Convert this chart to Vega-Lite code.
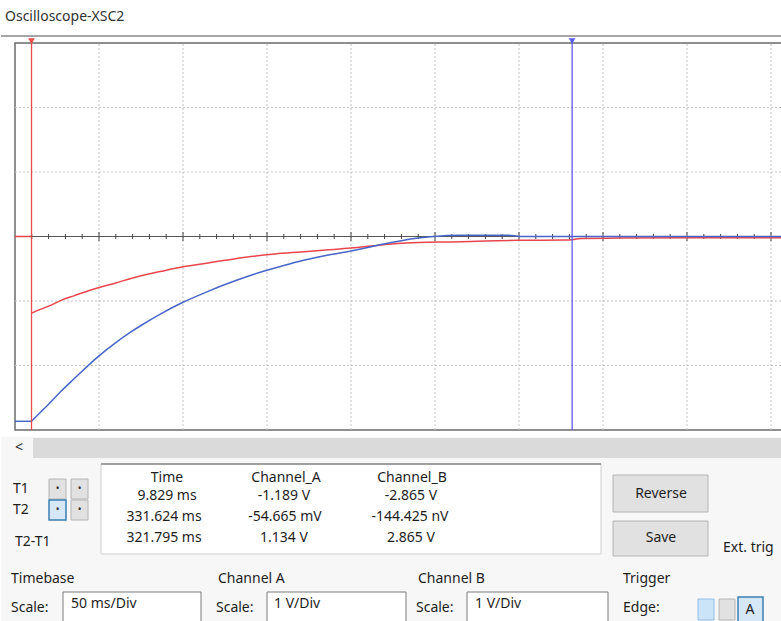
{
  "$schema": "https://vega.github.io/schema/vega-lite/v6.json",
  "padding": {"top": 10, "left": 0, "right": 0, "bottom": 0},
  "spacing": 0,
  "background": "white",
  "config": {"view": {"stroke": null}, "concat": {"spacing": 0}, "font": "Noto Sans"},
  "resolve": {"scale": {"x": "independent", "y": "independent", "color": "independent"}},
  "datasets": {
    "traces": [
      {"ch": "Channel_A", "seg": "A0", "i": 0, "t": 0, "v": 0},
      {"ch": "Channel_A", "seg": "A0", "i": 1, "t": 9.829, "v": 0},
      {"ch": "Channel_A", "seg": "A1", "i": 2, "t": 9.829, "v": -1.189},
      {"ch": "Channel_A", "seg": "A1", "i": 3, "t": 15, "v": -1.13},
      {"ch": "Channel_A", "seg": "A1", "i": 4, "t": 20, "v": -1.08},
      {"ch": "Channel_A", "seg": "A1", "i": 5, "t": 27.4, "v": -0.99},
      {"ch": "Channel_A", "seg": "A1", "i": 6, "t": 35, "v": -0.92},
      {"ch": "Channel_A", "seg": "A1", "i": 7, "t": 50, "v": -0.79},
      {"ch": "Channel_A", "seg": "A1", "i": 8, "t": 60, "v": -0.72},
      {"ch": "Channel_A", "seg": "A1", "i": 9, "t": 69, "v": -0.65},
      {"ch": "Channel_A", "seg": "A1", "i": 10, "t": 75, "v": -0.61},
      {"ch": "Channel_A", "seg": "A1", "i": 11, "t": 87, "v": -0.54},
      {"ch": "Channel_A", "seg": "A1", "i": 12, "t": 100, "v": -0.47},
      {"ch": "Channel_A", "seg": "A1", "i": 13, "t": 115, "v": -0.41},
      {"ch": "Channel_A", "seg": "A1", "i": 14, "t": 125, "v": -0.37},
      {"ch": "Channel_A", "seg": "A1", "i": 15, "t": 140.5, "v": -0.31},
      {"ch": "Channel_A", "seg": "A1", "i": 16, "t": 155, "v": -0.27},
      {"ch": "Channel_A", "seg": "A1", "i": 17, "t": 170, "v": -0.24},
      {"ch": "Channel_A", "seg": "A1", "i": 18, "t": 185, "v": -0.21},
      {"ch": "Channel_A", "seg": "A1", "i": 19, "t": 200, "v": -0.18},
      {"ch": "Channel_A", "seg": "A1", "i": 20, "t": 218, "v": -0.13},
      {"ch": "Channel_A", "seg": "A1", "i": 21, "t": 230, "v": -0.105},
      {"ch": "Channel_A", "seg": "A1", "i": 22, "t": 245, "v": -0.09},
      {"ch": "Channel_A", "seg": "A1", "i": 23, "t": 260, "v": -0.085},
      {"ch": "Channel_A", "seg": "A1", "i": 24, "t": 280, "v": -0.07},
      {"ch": "Channel_A", "seg": "A1", "i": 25, "t": 300, "v": -0.06},
      {"ch": "Channel_A", "seg": "A1", "i": 26, "t": 327, "v": -0.055},
      {"ch": "Channel_A", "seg": "A1", "i": 27, "t": 331.6, "v": -0.05},
      {"ch": "Channel_A", "seg": "A1", "i": 28, "t": 337, "v": -0.03},
      {"ch": "Channel_A", "seg": "A1", "i": 29, "t": 360, "v": -0.025},
      {"ch": "Channel_A", "seg": "A1", "i": 30, "t": 400, "v": -0.02},
      {"ch": "Channel_A", "seg": "A1", "i": 31, "t": 456.5, "v": -0.02},
      {"ch": "Channel_B", "seg": "B0", "i": 0, "t": 0, "v": -2.865},
      {"ch": "Channel_B", "seg": "B0", "i": 1, "t": 9.829, "v": -2.865},
      {"ch": "Channel_B", "seg": "B1", "i": 2, "t": 9.829, "v": -2.865},
      {"ch": "Channel_B", "seg": "B1", "i": 3, "t": 15, "v": -2.73},
      {"ch": "Channel_B", "seg": "B1", "i": 4, "t": 20, "v": -2.6},
      {"ch": "Channel_B", "seg": "B1", "i": 5, "t": 27.4, "v": -2.4},
      {"ch": "Channel_B", "seg": "B1", "i": 6, "t": 35, "v": -2.21},
      {"ch": "Channel_B", "seg": "B1", "i": 7, "t": 50, "v": -1.85},
      {"ch": "Channel_B", "seg": "B1", "i": 8, "t": 60, "v": -1.645},
      {"ch": "Channel_B", "seg": "B1", "i": 9, "t": 69, "v": -1.48},
      {"ch": "Channel_B", "seg": "B1", "i": 10, "t": 75, "v": -1.38},
      {"ch": "Channel_B", "seg": "B1", "i": 11, "t": 87, "v": -1.195},
      {"ch": "Channel_B", "seg": "B1", "i": 12, "t": 100, "v": -1.02},
      {"ch": "Channel_B", "seg": "B1", "i": 13, "t": 115, "v": -0.85},
      {"ch": "Channel_B", "seg": "B1", "i": 14, "t": 125, "v": -0.745},
      {"ch": "Channel_B", "seg": "B1", "i": 15, "t": 140.5, "v": -0.6},
      {"ch": "Channel_B", "seg": "B1", "i": 16, "t": 146, "v": -0.555},
      {"ch": "Channel_B", "seg": "B1", "i": 17, "t": 160, "v": -0.45},
      {"ch": "Channel_B", "seg": "B1", "i": 18, "t": 170, "v": -0.38},
      {"ch": "Channel_B", "seg": "B1", "i": 19, "t": 185, "v": -0.295},
      {"ch": "Channel_B", "seg": "B1", "i": 20, "t": 200, "v": -0.225},
      {"ch": "Channel_B", "seg": "B1", "i": 21, "t": 212, "v": -0.16},
      {"ch": "Channel_B", "seg": "B1", "i": 22, "t": 218, "v": -0.125},
      {"ch": "Channel_B", "seg": "B1", "i": 23, "t": 230, "v": -0.065},
      {"ch": "Channel_B", "seg": "B1", "i": 24, "t": 240, "v": -0.025},
      {"ch": "Channel_B", "seg": "B1", "i": 25, "t": 249, "v": 0},
      {"ch": "Channel_B", "seg": "B1", "i": 26, "t": 264, "v": 0.02},
      {"ch": "Channel_B", "seg": "B1", "i": 27, "t": 294, "v": 0.02},
      {"ch": "Channel_B", "seg": "B1", "i": 28, "t": 301, "v": 0},
      {"ch": "Channel_B", "seg": "B1", "i": 29, "t": 331.6, "v": 0},
      {"ch": "Channel_B", "seg": "B1", "i": 30, "t": 456.5, "v": 0}
    ],
    "vgrid": [{"t": 50}, {"t": 100}, {"t": 150}, {"t": 200}, {"t": 250}, {"t": 300}, {"t": 350}, {"t": 400}, {"t": 450}],
    "hgrid": [{"v": -2}, {"v": -1}, {"v": 1}, {"v": 2}],
    "minor": [{"t": 10}, {"t": 20}, {"t": 30}, {"t": 40}, {"t": 60}, {"t": 70}, {"t": 80}, {"t": 90}, {"t": 110}, {"t": 120}, {"t": 130}, {"t": 140}, {"t": 160}, {"t": 170}, {"t": 180}, {"t": 190}, {"t": 210}, {"t": 220}, {"t": 230}, {"t": 240}, {"t": 260}, {"t": 270}, {"t": 280}, {"t": 290}, {"t": 310}, {"t": 320}, {"t": 330}, {"t": 340}, {"t": 360}, {"t": 370}, {"t": 380}, {"t": 390}, {"t": 410}, {"t": 420}, {"t": 430}, {"t": 440}],
    "cursors": [{"name": "T1", "t": 9.829}, {"name": "T2", "t": 331.624}],
    "frame": [{"t0": 0, "t1": 470, "v0": -3, "v1": 3}],
    "track": [{"x0": 32, "x1": 781, "y0": 437, "y1": 457}],
    "whitebox": [{"x0": 100, "x1": 600, "y0": 463, "y1": 553}],
    "grayButtons": [
      {"x0": 612, "x1": 707, "y0": 474, "y1": 511},
      {"x0": 612, "x1": 707, "y0": 520, "y1": 555},
      {"x0": 48, "x1": 65, "y0": 478, "y1": 498},
      {"x0": 70, "x1": 87, "y0": 478, "y1": 498},
      {"x0": 70, "x1": 87, "y0": 499, "y1": 519},
      {"x0": 718, "x1": 734, "y0": 598, "y1": 619}
    ],
    "selButtons": [
      {"x0": 48, "x1": 65, "y0": 499, "y1": 519},
      {"x0": 737, "x1": 762, "y0": 596, "y1": 623}
    ],
    "blueButtons": [{"x0": 697, "x1": 713, "y0": 598, "y1": 619}],
    "inputs": [
      {"x0": 62, "x1": 200, "y0": 591, "y1": 625},
      {"x0": 266, "x1": 405, "y0": 591, "y1": 625},
      {"x0": 466, "x1": 607, "y0": 591, "y1": 625}
    ],
    "leftText": [
      {"x": 12, "y": 488, "label": "T1"},
      {"x": 12, "y": 509, "label": "T2"},
      {"x": 14, "y": 541, "label": "T2-T1"},
      {"x": 722, "y": 547, "label": "Ext. trig"},
      {"x": 10, "y": 578, "label": "Timebase"},
      {"x": 10, "y": 607, "label": "Scale:"},
      {"x": 70, "y": 603, "label": "50 ms/Div"},
      {"x": 217, "y": 578, "label": "Channel A"},
      {"x": 215, "y": 607, "label": "Scale:"},
      {"x": 273, "y": 603, "label": "1  V/Div"},
      {"x": 417, "y": 578, "label": "Channel B"},
      {"x": 415, "y": 607, "label": "Scale:"},
      {"x": 474, "y": 603, "label": "1  V/Div"},
      {"x": 622, "y": 578, "label": "Trigger"},
      {"x": 622, "y": 607, "label": "Edge:"}
    ],
    "centerText": [
      {"x": 166, "y": 477, "label": "Time"},
      {"x": 166, "y": 495, "label": "9.829 ms"},
      {"x": 163, "y": 516, "label": "331.624 ms"},
      {"x": 163, "y": 537, "label": "321.795 ms"},
      {"x": 285, "y": 477, "label": "Channel_A"},
      {"x": 283, "y": 495, "label": "-1.189 V"},
      {"x": 284, "y": 516, "label": "-54.665 mV"},
      {"x": 283, "y": 537, "label": "1.134 V"},
      {"x": 411, "y": 477, "label": "Channel_B"},
      {"x": 410, "y": 495, "label": "-2.865 V"},
      {"x": 409, "y": 516, "label": "-144.425 nV"},
      {"x": 410, "y": 537, "label": "2.865 V"},
      {"x": 660, "y": 493, "label": "Reverse"},
      {"x": 660, "y": 537, "label": "Save"},
      {"x": 749, "y": 609, "label": "A"},
      {"x": 18, "y": 447, "label": "<"}
    ],
    "dots": [
      {"x": 56.5, "y": 488, "label": "•"},
      {"x": 78.5, "y": 488, "label": "•"},
      {"x": 56.5, "y": 509, "label": "•"},
      {"x": 78.5, "y": 509, "label": "•"}
    ]
  },
  "vconcat": [
    {
      "width": 781,
      "height": 404,
      "title": {"text": "Oscilloscope-XSC2", "anchor": "start", "frame": "group", "fontSize": 14, "font": "Noto Sans", "fontWeight": "normal", "color": "#333333", "offset": 9, "dx": 4},
      "encoding": {
        "x": {"type": "quantitative", "scale": {"domain": [-8.333, 456.55], "nice": false, "zero": false}, "axis": null},
        "y": {"type": "quantitative", "scale": {"domain": [-3.1085, 3.155], "nice": false, "zero": false}, "axis": null}
      },
      "layer": [
        {
          "data": {"name": "frame"},
          "mark": {"type": "rect", "fill": "white", "stroke": "#6b6b6b", "strokeWidth": 1.5, "clip": true},
          "encoding": {"x": {"field": "t0", "type": "quantitative"}, "x2": {"field": "t1"}, "y": {"field": "v0", "type": "quantitative"}, "y2": {"field": "v1"}}
        },
        {
          "data": {"name": "vgrid"},
          "mark": {"type": "rule", "stroke": "#c4c4c4", "strokeDash": [2, 2], "strokeWidth": 1},
          "encoding": {"x": {"field": "t", "type": "quantitative"}, "y": {"datum": -3}, "y2": {"datum": 3}}
        },
        {
          "data": {"name": "hgrid"},
          "mark": {"type": "rule", "stroke": "#c4c4c4", "strokeDash": [2, 2], "strokeWidth": 1},
          "encoding": {"y": {"field": "v", "type": "quantitative"}, "x": {"datum": 0}, "x2": {"datum": 456.55}}
        },
        {
          "data": {"values": [{"v": 3.1085}]},
          "mark": {"type": "rule", "stroke": "#a6a6a6", "strokeWidth": 2},
          "encoding": {"y": {"field": "v", "type": "quantitative"}, "x": {"datum": -8.333}, "x2": {"datum": 456.55}}
        },
        {
          "data": {"values": [{"v": 0}]},
          "mark": {"type": "rule", "stroke": "#555555", "strokeWidth": 1},
          "encoding": {"y": {"field": "v", "type": "quantitative"}, "x": {"datum": 0}, "x2": {"datum": 456.55}}
        },
        {
          "data": {"name": "minor"},
          "mark": {"type": "tick", "orient": "vertical", "color": "#444444", "size": 5, "thickness": 1, "opacity": 1},
          "encoding": {"x": {"field": "t", "type": "quantitative"}, "y": {"datum": 0}}
        },
        {
          "data": {"name": "vgrid"},
          "mark": {"type": "tick", "orient": "vertical", "color": "#444444", "size": 9, "thickness": 1, "opacity": 1},
          "encoding": {"x": {"field": "t", "type": "quantitative"}, "y": {"datum": 0}}
        },
        {
          "data": {"name": "traces"},
          "mark": {"type": "line", "strokeWidth": 1.5, "interpolate": "monotone"},
          "encoding": {
            "x": {"field": "t", "type": "quantitative"},
            "y": {"field": "v", "type": "quantitative"},
            "order": {"field": "i", "type": "quantitative"},
            "detail": {"field": "seg", "type": "nominal"},
            "color": {"field": "ch", "type": "nominal", "scale": {"domain": ["Channel_A", "Channel_B", "T1", "T2"], "range": ["#e8464c", "#4866c8", "#ea4a4a", "#5c5cf0"]}, "legend": null}
          }
        },
        {
          "data": {"name": "cursors"},
          "mark": {"type": "rule", "strokeWidth": 1.3},
          "encoding": {
            "x": {"field": "t", "type": "quantitative"},
            "y": {"datum": -3},
            "y2": {"datum": 3.03},
            "color": {"field": "name", "type": "nominal", "scale": {"domain": ["Channel_A", "Channel_B", "T1", "T2"], "range": ["#e8464c", "#4866c8", "#ea4a4a", "#5c5cf0"]}, "legend": null}
          }
        },
        {
          "data": {"name": "cursors"},
          "mark": {"type": "point", "shape": "triangle-down", "filled": true, "size": 45, "opacity": 1},
          "encoding": {
            "x": {"field": "t", "type": "quantitative"},
            "y": {"datum": 3.03},
            "color": {"field": "name", "type": "nominal", "scale": {"domain": ["Channel_A", "Channel_B", "T1", "T2"], "range": ["#e8464c", "#4866c8", "#ea4a4a", "#5c5cf0"]}, "legend": null}
          }
        }
      ]
    },
    {
      "width": 781,
      "height": 185,
      "view": {"fill": "#f7f7f7", "stroke": null},
      "encoding": {
        "x": {"type": "quantitative", "scale": {"domain": [0, 781], "nice": false, "zero": false}, "axis": null},
        "y": {"type": "quantitative", "scale": {"domain": [436, 621], "nice": false, "zero": false, "reverse": true}, "axis": null}
      },
      "layer": [
        {
          "data": {"name": "track"},
          "mark": {"type": "rect", "fill": "#dadada"},
          "encoding": {"x": {"field": "x0", "type": "quantitative"}, "x2": {"field": "x1"}, "y": {"field": "y0", "type": "quantitative"}, "y2": {"field": "y1"}}
        },
        {
          "data": {"name": "whitebox"},
          "mark": {"type": "rect", "fill": "white", "stroke": "#cfcfcf", "strokeWidth": 1},
          "encoding": {"x": {"field": "x0", "type": "quantitative"}, "x2": {"field": "x1"}, "y": {"field": "y0", "type": "quantitative"}, "y2": {"field": "y1"}}
        },
        {
          "data": {"name": "whitebox"},
          "mark": {"type": "rule", "stroke": "#a0a0a0", "strokeWidth": 2},
          "encoding": {"x": {"field": "x0", "type": "quantitative"}, "x2": {"field": "x1"}, "y": {"field": "y0", "type": "quantitative"}}
        },
        {
          "data": {"name": "grayButtons"},
          "mark": {"type": "rect", "fill": "#e1e1e1", "stroke": "#b4b4b4", "strokeWidth": 1},
          "encoding": {"x": {"field": "x0", "type": "quantitative"}, "x2": {"field": "x1"}, "y": {"field": "y0", "type": "quantitative"}, "y2": {"field": "y1"}}
        },
        {
          "data": {"name": "selButtons"},
          "mark": {"type": "rect", "fill": "#d6e8f7", "stroke": "#3c7fb1", "strokeWidth": 1.5, "clip": true},
          "encoding": {"x": {"field": "x0", "type": "quantitative"}, "x2": {"field": "x1"}, "y": {"field": "y0", "type": "quantitative"}, "y2": {"field": "y1"}}
        },
        {
          "data": {"name": "blueButtons"},
          "mark": {"type": "rect", "fill": "#cce4f7", "stroke": "#8fbde8", "strokeWidth": 1},
          "encoding": {"x": {"field": "x0", "type": "quantitative"}, "x2": {"field": "x1"}, "y": {"field": "y0", "type": "quantitative"}, "y2": {"field": "y1"}}
        },
        {
          "data": {"name": "inputs"},
          "mark": {"type": "rect", "fill": "white", "stroke": "#7a7a7a", "strokeWidth": 1, "clip": true},
          "encoding": {"x": {"field": "x0", "type": "quantitative"}, "x2": {"field": "x1"}, "y": {"field": "y0", "type": "quantitative"}, "y2": {"field": "y1"}}
        },
        {
          "data": {"name": "leftText"},
          "mark": {"type": "text", "align": "left", "baseline": "middle", "fontSize": 14, "font": "Noto Sans", "color": "#1e1e1e"},
          "encoding": {"x": {"field": "x", "type": "quantitative"}, "y": {"field": "y", "type": "quantitative"}, "text": {"field": "label"}}
        },
        {
          "data": {"name": "centerText"},
          "mark": {"type": "text", "align": "center", "baseline": "middle", "fontSize": 14, "font": "Noto Sans", "color": "#1e1e1e"},
          "encoding": {"x": {"field": "x", "type": "quantitative"}, "y": {"field": "y", "type": "quantitative"}, "text": {"field": "label"}}
        },
        {
          "data": {"name": "dots"},
          "mark": {"type": "text", "align": "center", "baseline": "middle", "fontSize": 10, "font": "Noto Sans", "color": "#333333"},
          "encoding": {"x": {"field": "x", "type": "quantitative"}, "y": {"field": "y", "type": "quantitative"}, "text": {"field": "label"}}
        }
      ]
    }
  ]
}
